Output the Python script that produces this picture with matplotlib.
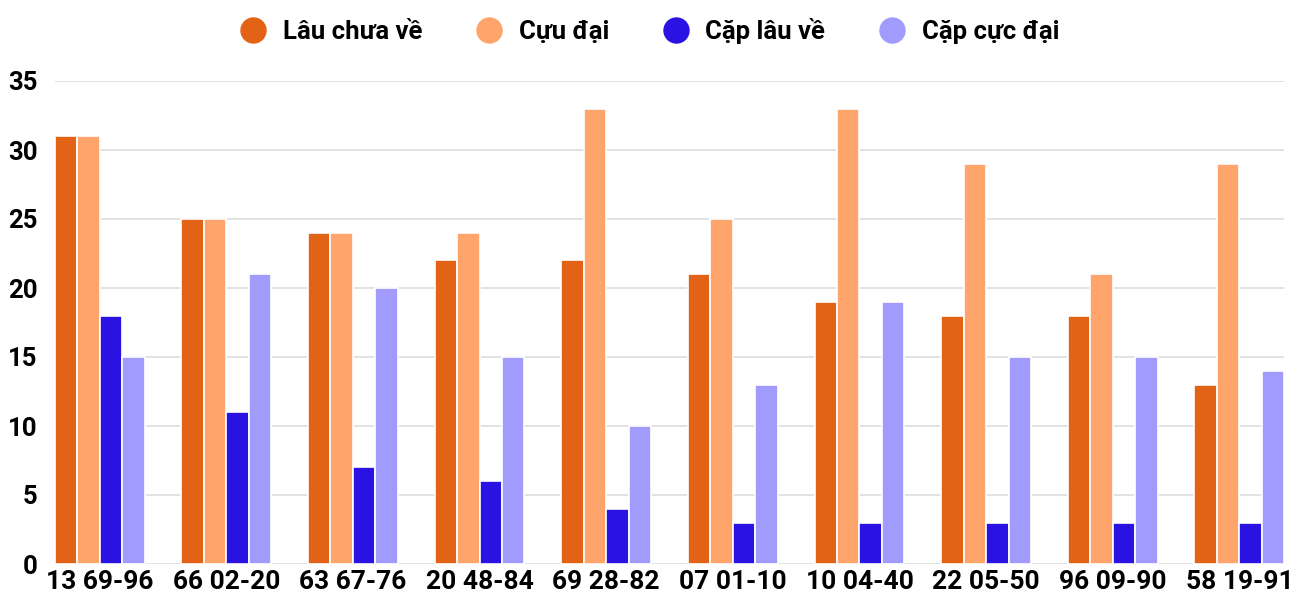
import matplotlib

matplotlib.use("Agg")
import matplotlib.pyplot as plt
from matplotlib.lines import Line2D
import numpy as np

plt.rcParams["font.family"] = ["Roboto", "DejaVu Sans"]
plt.rcParams["font.weight"] = "bold"

categories = ["13 69-96", "66 02-20", "63 67-76", "20 48-84", "69 28-82",
              "07 01-10", "10 04-40", "22 05-50", "96 09-90", "58 19-91"]
lau_chua_ve = [31, 25, 24, 22, 22, 21, 19, 18, 18, 13]
cuu_dai = [31, 25, 24, 24, 33, 25, 33, 29, 21, 29]
cap_lau_ve = [18, 11, 7, 6, 4, 3, 3, 3, 3, 3]
cap_cuc_dai = [15, 21, 20, 15, 10, 13, 19, 15, 15, 14]

series = [
    ("Lâu chưa về", lau_chua_ve, "#E26316"),
    ("Cựu đại", cuu_dai, "#FFA46B"),
    ("Cặp lâu về", cap_lau_ve, "#2A12E2"),
    ("Cặp cực đại", cap_cuc_dai, "#A29BFE"),
]

fig = plt.figure(figsize=(13, 6), dpi=100)
ax = fig.add_axes([0.042, 0.06, 0.946, 0.805])

x = np.arange(len(categories))
w = 0.1775
for i, (name, vals, color) in enumerate(series):
    ax.bar(x + (i - 1.5) * w, vals, width=w, color=color,
           edgecolor="white", linewidth=1.2, zorder=3)

ax.set_xlim(-0.355, len(categories) - 1 + 0.355)
ax.set_ylim(0, 35)
ax.set_yticks(range(0, 36, 5))
ax.set_xticks(x)
ax.set_xticklabels(categories)
ax.grid(axis="y", color="#DDDDDD", linewidth=1.2, zorder=0)
for s in ax.spines.values():
    s.set_visible(False)
ax.tick_params(axis="x", length=0, labelsize=19, pad=4)
ax.tick_params(axis="y", length=0, labelsize=18.5, pad=12)

handles = [Line2D([], [], marker="o", linestyle="", markersize=18,
                  markerfacecolor=c, markeredgecolor=c) for _, _, c in series]
fig.legend(handles, [n for n, _, _ in series], loc="center",
           bbox_to_anchor=(0.495, 0.948), ncol=4, frameon=False,
           prop={"size": 18.5, "weight": "bold"}, handletextpad=0.15,
           columnspacing=1.6)

fig.savefig("out.png", dpi=100)
